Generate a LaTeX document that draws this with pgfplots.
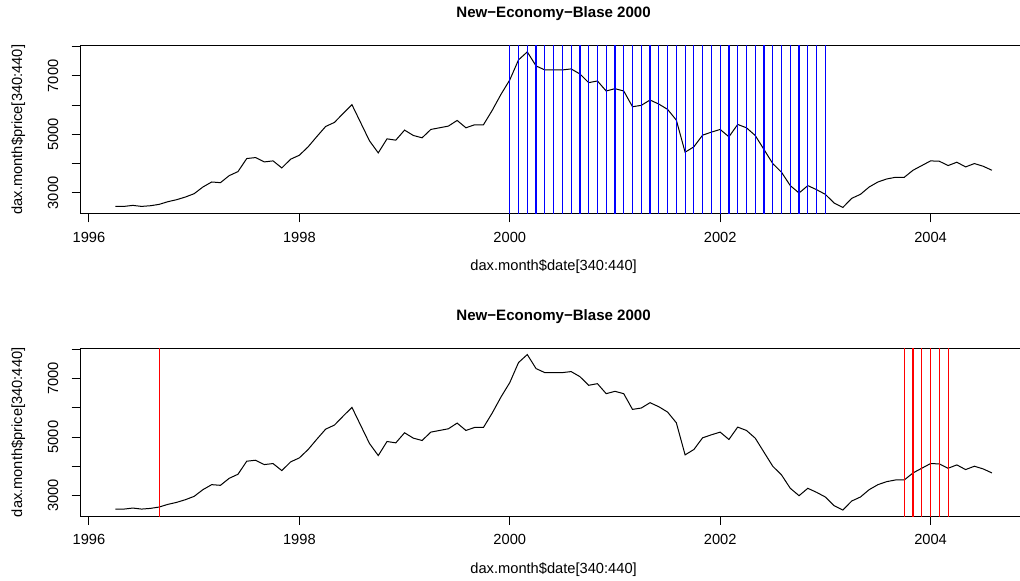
\documentclass[border=0pt]{standalone}
\usepackage{fontspec}
\setmainfont{Liberation Sans}
\usepackage{pgfplots}
\pgfplotsset{compat=1.18}
\usepackage{pgfplotstable}

\pgfplotstableread{
year month price
1996 4 2541
1996 5 2541
1996 6 2576
1996 7 2541
1996 8 2564
1996 9 2610
1996 10 2702
1996 11 2770
1996 12 2862
1997 1 2976
1997 2 3205
1997 3 3376
1997 4 3353
1997 5 3593
1997 6 3731
1997 7 4177
1997 8 4211
1997 9 4062
1997 10 4097
1997 11 3856
1997 12 4154
1998 1 4291
1998 2 4577
1998 3 4932
1998 4 5274
1998 5 5412
1998 6 5720
1998 7 6018
1998 8 5400
1998 9 4782
1998 10 4371
1998 11 4851
1998 12 4805
1999 1 5149
1999 2 4966
1999 3 4886
1999 4 5172
1999 5 5229
1999 6 5286
1999 7 5480
1999 8 5229
1999 9 5332
1999 10 5332
1999 11 5824
1999 12 6372
2000 1 6864
2000 2 7550
2000 3 7823
2000 4 7343
2000 5 7206
2000 6 7206
2000 7 7206
2000 8 7241
2000 9 7069
2000 10 6772
2000 11 6829
2000 12 6486
2001 1 6566
2001 2 6486
2001 3 5949
2001 4 5995
2001 5 6178
2001 6 6040
2001 7 5858
2001 8 5492
2001 9 4394
2001 10 4577
2001 11 4977
2001 12 5080
2002 1 5172
2002 2 4920
2002 3 5343
2002 4 5229
2002 5 4966
2002 6 4486
2002 7 4006
2002 8 3708
2002 9 3251
2002 10 2999
2002 11 3251
2002 12 3113
2003 1 2953
2003 2 2656
2003 3 2507
2003 4 2816
2003 5 2953
2003 6 3205
2003 7 3376
2003 8 3479
2003 9 3536
2003 10 3536
2003 11 3777
2003 12 3937
2004 1 4097
2004 2 4085
2004 3 3937
2004 4 4051
2004 5 3891
2004 6 4006
2004 7 3914
2004 8 3777
}\daxdata

\pgfplotsset{
  daxaxis/.style={
    scale only axis, width=710.1pt, height=126pt,
    anchor=south west,
    xmin=1995.9167, xmax=2004.9167,
    ymin=2293, ymax=8036,
    xtick={1996,1998,2000,2002,2004},
    xticklabels={1996,1998,2000,2002,2004},
    ytick={3000,4000,5000,6000,7000,8000},
    yticklabels={3000,,5000,,7000,},
    minor tick num=0,
    tick align=outside,
    tick pos=left,
    major tick length=6.5pt,
    every tick/.style={black, line width=0.75pt},
    axis line style={line width=0.75pt, black},
    tick label style={font=\fontsize{11}{13}\selectfont},
    xticklabel style={anchor=north, inner sep=0pt, yshift=-7pt},
    yticklabel style={rotate=90, anchor=south, inner sep=0pt, yshift=9.7pt},
    label style={font=\fontsize{11}{13}\selectfont},
    xlabel={dax.month\$date[340:440]},
    ylabel={dax.month\$price[340:440]},
    xlabel style={at={(axis description cs:0.5,-0.3155)}, anchor=center, inner sep=0pt},
    ylabel style={at={(axis description cs:-0.0655,0.5)}, anchor=center, rotate=0, inner sep=0pt},
    title={New−Economy−Blase 2000},
    title style={at={(axis description cs:0.5,1.143)}, anchor=center, inner sep=0pt,
      font=\fontsize{11.3}{13}\selectfont\bfseries},
    unbounded coords=jump,
    clip=true,
  }
}

\begin{document}
\begin{tikzpicture}
\begin{axis}[daxaxis, at={(60.15pt,275.5pt)}]
\addplot[black, line width=0.75pt, mark=none]
  table[x expr=\thisrow{year}+(\thisrow{month}-1)/12, y=price] {\daxdata};
\addplot[color=blue, line width=0.9pt, mark=none] coordinates {
(2000.0000,0) (2000.0000,10000) (2000.0000,nan)
(2000.0833,0) (2000.0833,10000) (2000.0833,nan)
(2000.1667,0) (2000.1667,10000) (2000.1667,nan)
(2000.2500,0) (2000.2500,10000) (2000.2500,nan)
(2000.3333,0) (2000.3333,10000) (2000.3333,nan)
(2000.4167,0) (2000.4167,10000) (2000.4167,nan)
(2000.5000,0) (2000.5000,10000) (2000.5000,nan)
(2000.5833,0) (2000.5833,10000) (2000.5833,nan)
(2000.6667,0) (2000.6667,10000) (2000.6667,nan)
(2000.7500,0) (2000.7500,10000) (2000.7500,nan)
(2000.8333,0) (2000.8333,10000) (2000.8333,nan)
(2000.9167,0) (2000.9167,10000) (2000.9167,nan)
(2001.0000,0) (2001.0000,10000) (2001.0000,nan)
(2001.0833,0) (2001.0833,10000) (2001.0833,nan)
(2001.1667,0) (2001.1667,10000) (2001.1667,nan)
(2001.2500,0) (2001.2500,10000) (2001.2500,nan)
(2001.3333,0) (2001.3333,10000) (2001.3333,nan)
(2001.4167,0) (2001.4167,10000) (2001.4167,nan)
(2001.5000,0) (2001.5000,10000) (2001.5000,nan)
(2001.5833,0) (2001.5833,10000) (2001.5833,nan)
(2001.6667,0) (2001.6667,10000) (2001.6667,nan)
(2001.7500,0) (2001.7500,10000) (2001.7500,nan)
(2001.8333,0) (2001.8333,10000) (2001.8333,nan)
(2001.9167,0) (2001.9167,10000) (2001.9167,nan)
(2002.0000,0) (2002.0000,10000) (2002.0000,nan)
(2002.0833,0) (2002.0833,10000) (2002.0833,nan)
(2002.1667,0) (2002.1667,10000) (2002.1667,nan)
(2002.2500,0) (2002.2500,10000) (2002.2500,nan)
(2002.3333,0) (2002.3333,10000) (2002.3333,nan)
(2002.4167,0) (2002.4167,10000) (2002.4167,nan)
(2002.5000,0) (2002.5000,10000) (2002.5000,nan)
(2002.5833,0) (2002.5833,10000) (2002.5833,nan)
(2002.6667,0) (2002.6667,10000) (2002.6667,nan)
(2002.7500,0) (2002.7500,10000) (2002.7500,nan)
(2002.8333,0) (2002.8333,10000) (2002.8333,nan)
(2002.9167,0) (2002.9167,10000) (2002.9167,nan)
(2003.0000,0) (2003.0000,10000) (2003.0000,nan)
};
\end{axis}
\begin{axis}[daxaxis, at={(60.15pt,48.5pt)}]
\addplot[black, line width=0.75pt, mark=none]
  table[x expr=\thisrow{year}+(\thisrow{month}-1)/12, y=price] {\daxdata};
\addplot[color=red, line width=0.9pt, mark=none] coordinates {
(1996.6667,0) (1996.6667,10000) (1996.6667,nan)
(2003.7500,0) (2003.7500,10000) (2003.7500,nan)
(2003.8333,0) (2003.8333,10000) (2003.8333,nan)
(2003.9167,0) (2003.9167,10000) (2003.9167,nan)
(2004.0000,0) (2004.0000,10000) (2004.0000,nan)
(2004.0833,0) (2004.0833,10000) (2004.0833,nan)
(2004.1667,0) (2004.1667,10000) (2004.1667,nan)
};
\end{axis}
\pgfresetboundingbox
\useasboundingbox (0,0) rectangle (765pt,435.75pt);
\end{tikzpicture}
\end{document}
